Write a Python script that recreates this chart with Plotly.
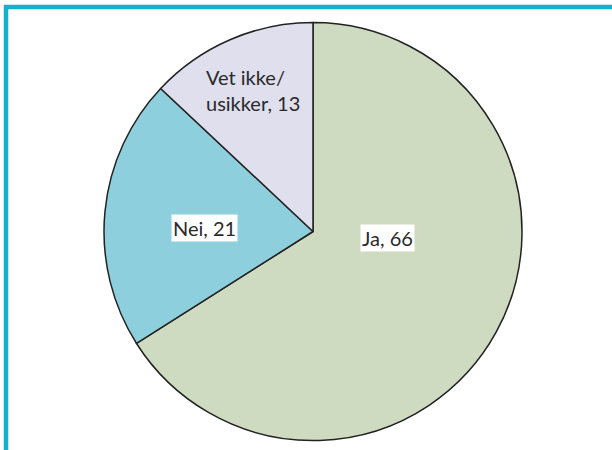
import plotly.graph_objects as go

labels = ["Ja", "Nei", "Vet ikke/<br>usikker"]
values = [66, 21, 13]
colors = ["#cfdbc0", "#8ecfde", "#dfdfed"]

W, H = 612, 450
ML, MR, MT, MB = 104, 90, 22, 9
pw, ph = W - ML - MR, H - MT - MB

def px_x(x):
    return (x - ML) / pw

def px_y(y):
    return 1 - (y - MT) / ph

fig = go.Figure(go.Pie(
    labels=labels, values=values, sort=False, direction="clockwise",
    rotation=0, marker=dict(colors=colors, line=dict(color="#222222", width=1.5)),
    textinfo="none", hoverinfo="label+value", showlegend=False,
))

FONT = dict(family="Lato, Noto Sans, sans-serif", size=20, color="#2a2a2a")

# label anchor positions (pixels, centre of text block) and white box flag
label_pos = [(387, 238, True), (204, 228, True), (253, 90, False)]
for lab, val, (x, y, box) in zip(labels, values, label_pos):
    fig.add_annotation(
        x=px_x(x), y=px_y(y), xref="paper", yref="paper",
        xanchor="center", yanchor="middle",
        showarrow=False, text=f"{lab}, {val}", align="left",
        font=FONT, bgcolor="white" if box else "rgba(0,0,0,0)", borderpad=1,
    )

teal = "#10b3cb"
fig.add_shape(type="line", xref="paper", yref="paper",
              x0=px_x(4), x1=px_x(612), y0=px_y(7), y1=px_y(7),
              line=dict(color=teal, width=4.5))
fig.add_shape(type="line", xref="paper", yref="paper",
              x0=px_x(6), x1=px_x(6), y0=px_y(5), y1=px_y(450),
              line=dict(color=teal, width=4.5))

fig.update_layout(
    width=W, height=H, margin=dict(l=ML, r=MR, t=MT, b=MB),
    paper_bgcolor="white", plot_bgcolor="white",
)
fig.write_html("out.html", config={"displayModeBar": False},
               post_script="document.body.style.margin='0';")
